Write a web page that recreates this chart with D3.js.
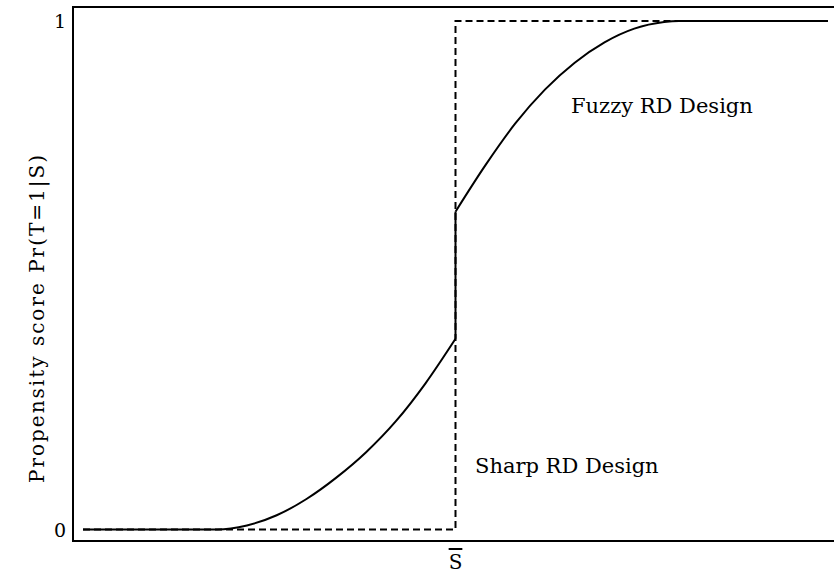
<!DOCTYPE html>
<html lang="en">

<head>
    <meta charset="utf-8">
    <style>
        body { margin: 0; background: #fff; }
        text { font-family: "DejaVu Serif", "Liberation Serif", serif; fill: #000; }
    </style>
</head>

<body>
    <script src="https://d3js.org/d3.v7.min.js"></script>
    <div id="chart"></div>
    <script>
        // Data (S on a 0..10 scale, cutoff at 5)
        var cutoff = 5;
        var lowerX = [0, 1.8, 2.2, 2.6, 3.0, 3.4, 3.8, 4.2, 4.6, 5];
        var lowerY = [0, 0, 0.008, 0.028, 0.06, 0.102, 0.152, 0.213, 0.288, 0.375];
        var upperX = [5, 5.4, 5.8, 6.2, 6.6, 7.0, 7.4, 7.8, 8.0, 10];
        var upperY = [0.625, 0.716, 0.798, 0.865, 0.918, 0.958, 0.985, 0.998, 1, 1];
        var sharpX = [0, 5, 5, 10];
        var sharpY = [0, 0, 1, 1];
        var yTicks = [0, 1];

        var width = 834, height = 575;

        var svg = d3.select("#chart")
            .append("svg")
            .attr("width", width)
            .attr("height", height);

        var x = d3.scaleLinear().domain([0, 10]).range([83, 828]);
        var y = d3.scaleLinear().domain([0, 1]).range([529.5, 21]);

        // frame (right side runs off the picture)
        svg.append("path")
            .attr("d", "M845,7H73V541H845")
            .style("fill", "none")
            .style("stroke", "#000")
            .style("stroke-width", 2);

        // y tick labels
        svg.selectAll(".ytick")
            .data(yTicks)
            .enter()
            .append("text")
            .attr("x", 66)
            .attr("y", function (d) { return y(d); })
            .attr("text-anchor", "end")
            .attr("dominant-baseline", "central")
            .style("font-size", "19px")
            .text(function (d) { return d; });

        var line = d3.line()
            .x(function (d) { return x(d[0]); })
            .y(function (d) { return y(d[1]); });

        var zip = function (a, b) { return a.map(function (v, i) { return [v, b[i]]; }); };

        // sharp design, dashed
        svg.append("path")
            .attr("d", line(zip(sharpX, sharpY)))
            .style("fill", "none")
            .style("stroke", "#000")
            .style("stroke-width", 2)
            .style("stroke-dasharray", "7,4");

        // fuzzy design, solid
        var smooth = d3.line()
            .x(function (d) { return x(d[0]); })
            .y(function (d) { return y(d[1]); })
            .curve(d3.curveMonotoneX);

        svg.append("path")
            .attr("d", smooth(zip(lowerX, lowerY)))
            .style("fill", "none")
            .style("stroke", "#000")
            .style("stroke-width", 2);
        svg.append("path")
            .attr("d", line([[cutoff, lowerY[lowerY.length - 1]], [cutoff, upperY[0]]]))
            .style("fill", "none")
            .style("stroke", "#000")
            .style("stroke-width", 2);
        svg.append("path")
            .attr("d", smooth(zip(upperX, upperY)))
            .style("fill", "none")
            .style("stroke", "#000")
            .style("stroke-width", 2);

        // labels
        svg.append("text")
            .attr("x", 571).attr("y", 113)
            .style("font-size", "21px")
            .text("Fuzzy RD Design");
        svg.append("text")
            .attr("x", 475).attr("y", 473)
            .style("font-size", "21px")
            .text("Sharp RD Design");

        // x label: S-bar at the cutoff
        svg.append("text")
            .attr("x", x(cutoff)).attr("y", 569)
            .attr("text-anchor", "middle")
            .style("font-size", "20px")
            .style("text-decoration", "overline")
            .text("S");

        // y axis title
        svg.append("text")
            .attr("transform", "translate(44,318) rotate(-90)")
            .attr("text-anchor", "middle")
            .style("font-size", "20px")
            .style("letter-spacing", "2px")
            .text("Propensity score Pr(T=1|S)");
    </script>
</body>

</html>
